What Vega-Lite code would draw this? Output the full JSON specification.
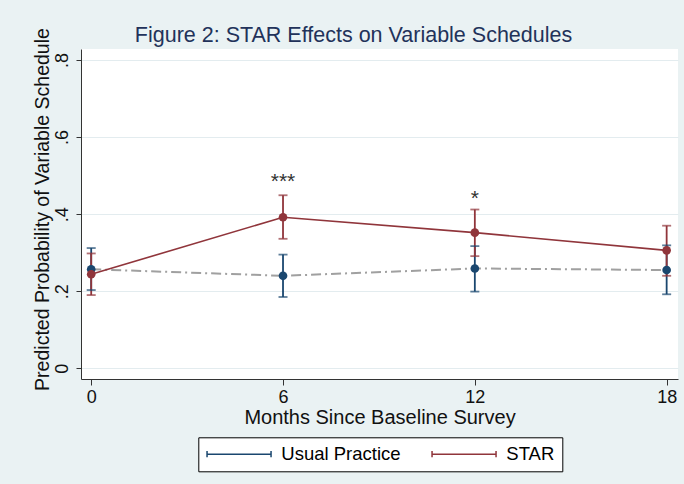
{
  "$schema": "https://vega.github.io/schema/vega-lite/v6.json",
  "width": 597,
  "height": 330,
  "autosize": {"type": "none"},
  "padding": {"left": 81, "top": 49, "right": 6, "bottom": 105},
  "background": "#eaf2f3",
  "config": {
    "font": "Liberation Sans",
    "view": {"fill": "white", "stroke": null},
    "axis": {"domainColor": "#333333", "tickColor": "#333333", "labelColor": "#111111", "titleColor": "#111111", "titleFontWeight": "normal"}
  },
  "title": {
    "text": "Figure 2: STAR Effects on Variable Schedules",
    "fontSize": 21.5,
    "fontWeight": "normal",
    "color": "#22325a",
    "anchor": "middle",
    "baseline": "alphabetic",
    "offset": -36,
    "dx": -26
  },
  "datasets": {
    "est": [
      {"month": 0, "group": "Usual Practice", "p": 0.257, "lo": 0.203, "hi": 0.312},
      {"month": 6, "group": "Usual Practice", "p": 0.240, "lo": 0.185, "hi": 0.295},
      {"month": 12, "group": "Usual Practice", "p": 0.259, "lo": 0.199, "hi": 0.317},
      {"month": 18, "group": "Usual Practice", "p": 0.255, "lo": 0.192, "hi": 0.319},
      {"month": 0, "group": "STAR", "p": 0.244, "lo": 0.190, "hi": 0.298},
      {"month": 6, "group": "STAR", "p": 0.392, "lo": 0.336, "hi": 0.449},
      {"month": 12, "group": "STAR", "p": 0.352, "lo": 0.291, "hi": 0.412},
      {"month": 18, "group": "STAR", "p": 0.306, "lo": 0.240, "hi": 0.370}
    ],
    "sig": [
      {"month": 6, "y": 0.467, "label": "***"},
      {"month": 12, "y": 0.4235, "label": "*"}
    ]
  },
  "resolve": {"legend": {"color": "independent"}},
  "encoding": {
    "x": {
      "field": "month",
      "type": "quantitative",
      "scale": {"domain": [-0.319, 18.355], "nice": false, "zero": false},
      "axis": {
        "values": [0, 6, 12, 18],
        "grid": false,
        "tickSize": 6,
        "labelPadding": 3.5,
        "labelFontSize": 18,
        "title": "Months Since Baseline Survey",
        "titleFontSize": 20,
        "titleY": 44,
        "titleBaseline": "alphabetic"
      }
    }
  },
  "layer": [
    {
      "data": {"name": "est"},
      "mark": {"type": "rule", "strokeWidth": 1.8},
      "encoding": {
        "y": {
          "field": "lo",
          "type": "quantitative",
          "scale": {"domain": [-0.0278, 0.8285], "nice": false, "zero": false},
          "axis": {
            "values": [0, 0.2, 0.4, 0.6, 0.8],
            "labelExpr": "datum.value == 0 ? '0' : replace(format(datum.value, '.1f'), '0.', '.')",
            "labelAngle": -90,
            "labelAlign": "center",
            "labelBaseline": "alphabetic",
            "labelFontSize": 18,
            "tickSize": 5,
            "labelPadding": 9,
            "grid": true,
            "gridColor": "#e3ecef",
            "gridWidth": 1.2,
            "title": "Predicted Probability of Variable Schedule",
            "titleFontSize": 19.5,
            "titleAngle": -90,
            "titleAlign": "center",
            "titleBaseline": "alphabetic",
            "titleX": -33,
            "titleY": 160
          }
        },
        "y2": {"field": "hi"},
        "color": {
          "field": "group",
          "type": "nominal",
          "scale": {"domain": ["Usual Practice", "STAR"], "range": ["#1a476f", "#90353b"]},
          "legend": {
            "title": null,
            "orient": "none",
            "legendX": 117.3,
            "legendY": 388.3,
            "direction": "horizontal",
            "symbolType": "M-4,0H4M-4,-0.4V0.4M4,-0.4V0.4",
            "symbolSize": 256,
            "symbolStrokeWidth": 1.5,
            "symbolOffset": 24,
            "labelOffset": 33,
            "labelFontSize": 18.5,
            "labelColor": "#000000",
            "labelLimit": 300,
            "padding": 7.5,
            "strokeColor": "#000000",
            "fillColor": "#ffffff",
            "columnPadding": 28
          }
        }
      }
    },
    {
      "data": {"name": "est"},
      "mark": {"type": "tick", "orient": "horizontal", "size": 9, "thickness": 1.8},
      "encoding": {
        "y": {"field": "lo", "type": "quantitative"},
        "color": {"field": "group", "type": "nominal", "legend": null}
      }
    },
    {
      "data": {"name": "est"},
      "mark": {"type": "tick", "orient": "horizontal", "size": 9, "thickness": 1.8},
      "encoding": {
        "y": {"field": "hi", "type": "quantitative"},
        "color": {"field": "group", "type": "nominal", "legend": null}
      }
    },
    {
      "data": {"name": "est"},
      "transform": [{"filter": "datum.group == 'Usual Practice'"}],
      "mark": {"type": "line", "color": "#a0a0a0", "strokeWidth": 2, "strokeDash": [10, 4, 2, 4]},
      "encoding": {
        "y": {"field": "p", "type": "quantitative"}
      }
    },
    {
      "data": {"name": "est"},
      "transform": [{"filter": "datum.group == 'STAR'"}],
      "mark": {"type": "line", "color": "#90353b", "strokeWidth": 1.6},
      "encoding": {
        "y": {"field": "p", "type": "quantitative"}
      }
    },
    {
      "data": {"name": "est"},
      "mark": {"type": "point", "shape": "circle", "filled": true, "size": 75, "opacity": 1},
      "encoding": {
        "y": {"field": "p", "type": "quantitative"},
        "color": {"field": "group", "type": "nominal", "legend": null}
      }
    },
    {
      "data": {"name": "sig"},
      "mark": {"type": "text", "fontSize": 21, "color": "#333333", "baseline": "alphabetic", "align": "center"},
      "encoding": {
        "y": {"field": "y", "type": "quantitative"},
        "text": {"field": "label"}
      }
    }
  ]
}
